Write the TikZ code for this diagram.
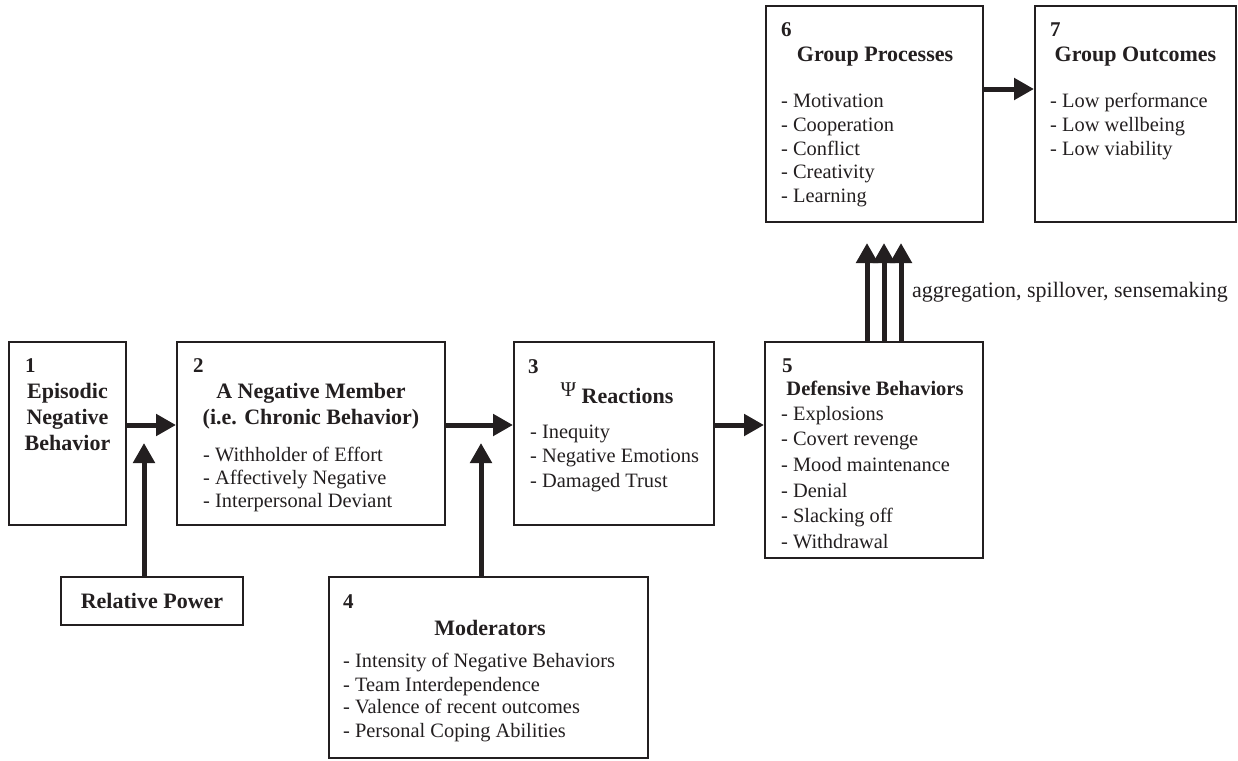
\documentclass[tikz,border=0pt]{standalone}
\usepackage{fontspec}
\setmainfont{Liberation Serif}
\usetikzlibrary{arrows.meta}
\pgfdeclarelayer{nodelayer}
\pgfdeclarelayer{edgelayer}
\pgfsetlayers{edgelayer,nodelayer,main}
\definecolor{ink}{HTML}{231F20}
\tikzstyle{box}=[fill=none, draw=ink, line width=2pt, shape=rectangle, inner sep=0pt, text=ink]
\tikzstyle{num}=[anchor=base west, inner sep=0pt, text=ink, font=\fontsize{21}{21}\selectfont\bfseries]
\tikzstyle{heading}=[anchor=base, inner sep=0pt, text=ink, font=\fontsize{22}{22}\selectfont\bfseries]
\tikzstyle{item}=[anchor=base west, inner sep=0pt, text=ink, font=\fontsize{20.4}{20.4}\selectfont]
\tikzstyle{flow}=[draw=ink, line width=5pt, -{Triangle[width=21pt, length=20pt]}]
\begin{document}
\begin{tikzpicture}[x=1pt, y=-1pt]
	\useasboundingbox (0, 0) rectangle (1238, 760);
	\begin{pgfonlayer}{nodelayer}
		\node [style=box, minimum width=117, minimum height=183] (1) at (67.5, 433.5) {};
		\node [style=box, minimum width=268, minimum height=183] (2) at (311, 433.5) {};
		\node [style=box, minimum width=200, minimum height=183] (3) at (614, 433.5) {};
		\node [style=box, minimum width=319, minimum height=181] (4) at (488.5, 667.5) {};
		\node [style=box, minimum width=218, minimum height=216] (5) at (874, 450) {};
		\node [style=box, minimum width=217, minimum height=216] (6) at (874.5, 114) {};
		\node [style=box, minimum width=201, minimum height=216] (7) at (1135.5, 114) {};
		\node [style=box, minimum width=182, minimum height=48, font=\fontsize{22}{22}\selectfont\bfseries] (8) at (152, 601) {Relative Power};
		\coordinate (9) at (144, 443);
		\coordinate (10) at (481, 443);
		% box 1
		\node [style=num] (11) at (25, 372) {1};
		\node [style=heading] (12) at (67.5, 398) {Episodic};
		\node [style=heading] (13) at (67.5, 424) {Negative};
		\node [style=heading] (14) at (67.5, 450) {Behavior};
		% box 2
		\node [style=num] (15) at (193, 372) {2};
		\node [style=heading] (16) at (311, 398) {A Negative Member};
		\node [style=heading] (17) at (311, 424) {(i.e. Chronic Behavior)};
		\node [style=item] (18) at (203, 461) {- Withholder of Effort};
		\node [style=item] (19) at (203, 484) {- Affectively Negative};
		\node [style=item] (20) at (203, 507) {- Interpersonal Deviant};
		% box 3
		\node [style=num] (21) at (528, 373) {3};
		\node [style=heading] (22) at (617, 403) {\raisebox{7pt}{\fontsize{21}{21}\selectfont\mdseries Ψ}\ Reactions};
		\node [style=item] (23) at (530, 438) {- Inequity};
		\node [style=item] (24) at (530, 462) {- Negative Emotions};
		\node [style=item] (25) at (530, 487) {- Damaged Trust};
		% box 4
		\node [style=num] (26) at (343, 608) {4};
		\node [style=heading] (27) at (490, 635) {Moderators};
		\node [style=item] (28) at (343, 667) {- Intensity of Negative Behaviors};
		\node [style=item] (29) at (343, 691) {- Team Interdependence};
		\node [style=item] (30) at (343, 713) {- Valence of recent outcomes};
		\node [style=item] (31) at (343, 737) {- Personal Coping Abilities};
		% box 5
		\node [style=num] (32) at (782, 372) {5};
		\node [style=heading, font=\fontsize{20.5}{20.5}\selectfont\bfseries] (33) at (875, 395) {Defensive Behaviors};
		\node [style=item] (34) at (781, 420) {- Explosions};
		\node [style=item] (35) at (781, 445.5) {- Covert revenge};
		\node [style=item] (36) at (781, 471) {- Mood maintenance};
		\node [style=item] (37) at (781, 497) {- Denial};
		\node [style=item] (38) at (781, 522) {- Slacking off};
		\node [style=item] (39) at (781, 548) {- Withdrawal};
		% box 6
		\node [style=num] (40) at (781, 37) {6};
		\node [style=heading] (41) at (875, 62) {Group Processes};
		\node [style=item] (42) at (781, 107) {- Motivation};
		\node [style=item] (43) at (781, 131) {- Cooperation};
		\node [style=item] (44) at (781, 155) {- Conflict};
		\node [style=item] (45) at (781, 178) {- Creativity};
		\node [style=item] (46) at (781, 202) {- Learning};
		% box 7
		\node [style=num] (47) at (1050, 37) {7};
		\node [style=heading] (48) at (1135.5, 62) {Group Outcomes};
		\node [style=item] (49) at (1050, 107) {- Low performance};
		\node [style=item] (50) at (1050, 131) {- Low wellbeing};
		\node [style=item] (51) at (1050, 155) {- Low viability};
		% label of the triple arrow
		\node [style=item, font=\fontsize{22}{22}\selectfont] (52) at (912, 297) {aggregation, spillover, sensemaking};
	\end{pgfonlayer}
	\begin{pgfonlayer}{edgelayer}
		\draw [style=flow] ([yshift=8.5pt]1.east) to ([yshift=8.5pt]2.west);
		\draw [style=flow] ([yshift=8.5pt]2.east) to ([yshift=8.5pt]3.west);
		\draw [style=flow] ([yshift=8.5pt]3.east) to ([yshift=8.5pt]3.east -| 5.west);
		\draw [style=flow] ([yshift=25pt]6.east) to ([yshift=25pt]7.west);
		\draw [style=flow] (8.north -| 9) to (9);
		\draw [style=flow] (4.north -| 10) to (10);
		\draw [style=flow] ([xshift=-7pt]5.north) to ([xshift=-7.5pt, yshift=-20pt]6.south);
		\draw [style=flow] ([xshift=10pt]5.north) to ([xshift=9.5pt, yshift=-20pt]6.south);
		\draw [style=flow] ([xshift=27pt]5.north) to ([xshift=26.5pt, yshift=-20pt]6.south);
	\end{pgfonlayer}
\end{tikzpicture}
\end{document}
